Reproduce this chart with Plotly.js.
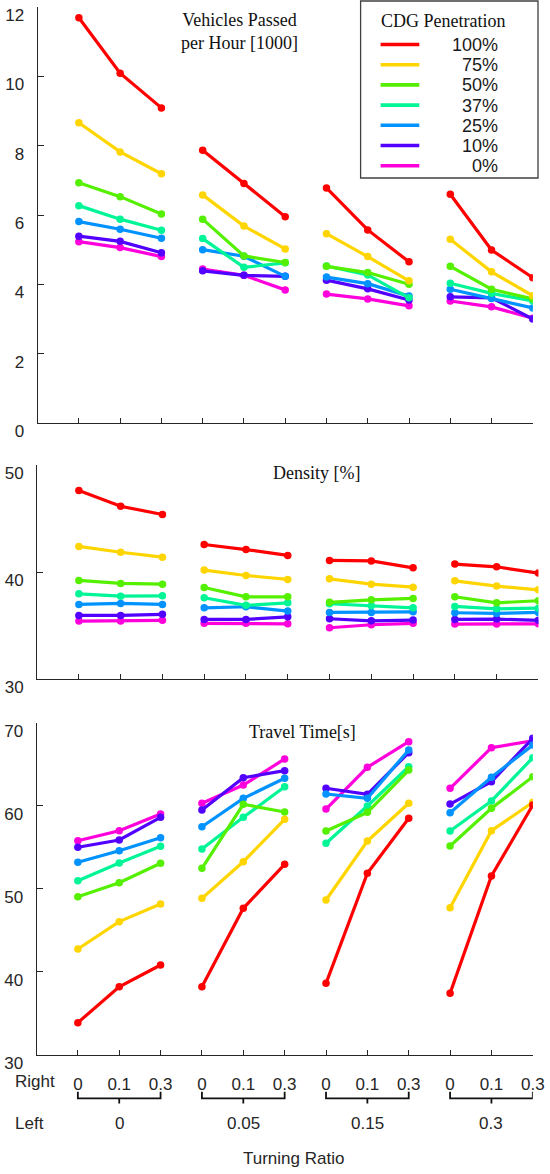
<!DOCTYPE html>
<html>
<head>
<meta charset="utf-8">
<script src="https://cdn.plot.ly/plotly-3.0.1.min.js"></script>
<style>html,body{margin:0;padding:0;background:#fff;}#chart{width:550px;height:1174px;}</style>
</head>
<body>
<div id="chart"></div>
<script>
// ---- data ----
const leftRatios = ['0', '0.05', '0.15', '0.3'];
const rightRatios = ['0', '0.1', '0.3'];
const penetration = ['100%', '75%', '50%', '37%', '25%', '10%', '0%'];
const colors = ['#ff0000', '#ffd500', '#55f000', '#00f596', '#0092ff', '#5200ff', '#ff00dc'];

// Vehicles passed per hour [1000]
const vehicles100 = [11.69, 10.09, 9.09, 7.87, 6.91, 5.95, 6.78, 5.57, 4.65, 6.60, 4.99, 4.19];
const vehicles75  = [8.66, 7.82, 7.19, 6.58, 5.68, 5.02, 5.46, 4.80, 4.10, 5.30, 4.36, 3.67];
const vehicles50  = [6.93, 6.53, 6.03, 5.88, 4.82, 4.63, 4.52, 4.34, 4.00, 4.52, 3.86, 3.58];
const vehicles37  = [6.27, 5.88, 5.56, 5.32, 4.49, 4.62, 4.53, 4.27, 3.61, 4.03, 3.74, 3.52];
const vehicles25  = [5.81, 5.59, 5.33, 5.00, 4.81, 4.23, 4.21, 4.02, 3.66, 3.86, 3.59, 3.32];
const vehicles10  = [5.39, 5.24, 4.91, 4.39, 4.26, 4.23, 4.12, 3.87, 3.55, 3.64, 3.61, 3.00];
const vehicles0   = [5.23, 5.06, 4.80, 4.44, 4.26, 3.84, 3.72, 3.58, 3.38, 3.52, 3.35, 3.02];

// Density [%]
const density100 = [47.61, 46.15, 45.38, 42.58, 42.11, 41.56, 41.09, 41.05, 40.40, 40.75, 40.50, 39.91];
const density75  = [42.40, 41.86, 41.40, 40.19, 39.69, 39.32, 39.38, 38.88, 38.60, 39.19, 38.70, 38.35];
const density50  = [39.23, 38.95, 38.88, 38.57, 37.70, 37.70, 37.18, 37.42, 37.55, 37.70, 37.14, 37.33];
const density37  = [37.98, 37.76, 37.79, 37.61, 36.90, 37.14, 37.05, 36.86, 36.67, 36.80, 36.58, 36.64];
const density25  = [36.99, 37.08, 36.99, 36.67, 36.77, 36.37, 36.24, 36.24, 36.30, 36.21, 36.15, 36.24];
const density10  = [35.96, 35.96, 36.06, 35.59, 35.59, 35.83, 35.65, 35.46, 35.53, 35.59, 35.62, 35.50];
const density0   = [35.43, 35.43, 35.50, 35.22, 35.22, 35.18, 34.81, 35.09, 35.22, 35.15, 35.15, 35.18];

// Travel time [s]
const travel100 = [33.86, 38.19, 40.81, 38.19, 47.64, 52.94, 38.60, 51.86, 58.48, 37.40, 51.53, 60.08];
const travel75  = [42.73, 46.03, 48.16, 48.84, 53.25, 58.36, 48.64, 55.75, 60.29, 47.71, 56.99, 60.41];
const travel50  = [49.04, 50.72, 53.06, 52.46, 60.17, 59.24, 56.95, 59.20, 64.30, 55.14, 59.69, 63.49];
const travel37  = [50.96, 53.10, 55.11, 54.78, 58.60, 62.29, 55.47, 59.96, 64.70, 56.95, 60.57, 65.78];
const travel25  = [53.18, 54.58, 56.14, 57.47, 60.89, 63.30, 61.41, 60.89, 66.71, 59.16, 63.42, 67.31];
const travel10  = [54.99, 55.87, 58.60, 59.48, 63.37, 64.22, 62.10, 61.37, 66.39, 60.20, 62.89, 68.12];
const travel0   = [55.78, 56.99, 59.00, 60.29, 62.49, 65.63, 59.60, 64.63, 67.71, 62.10, 66.99, 67.83];

const panelTitles = ['Vehicles Passed<br>per Hour [1000]', 'Density [%]', 'Travel Time[s]'];
const xAxisTitle = 'Turning Ratio';

// ---- build ----
const vehicles = [vehicles100, vehicles75, vehicles50, vehicles37, vehicles25, vehicles10, vehicles0];
const density = [density100, density75, density50, density37, density25, density10, density0];
const travel = [travel100, travel75, travel50, travel37, travel25, travel10, travel0];
const nG = leftRatios.length, nR = rightRatios.length;

function gapped(vals) {
  const xs = [], ys = [];
  for (let g = 0; g < nG; g++) {
    for (let r = 0; r < nR; r++) { xs.push(g * nR + r); ys.push(vals[g * nR + r]); }
    if (g < nG - 1) { xs.push(null); ys.push(null); }
  }
  return {xs, ys};
}

const traces = [];
const sets = [[vehicles, 'x', 'y'], [density, 'x2', 'y2'], [travel, 'x3', 'y3']];
sets.forEach(([data, xa, ya]) => {
  for (let i = penetration.length - 1; i >= 0; i--) {
    const d = gapped(data[i]);
    traces.push({
      x: d.xs, y: d.ys, xaxis: xa, yaxis: ya, type: 'scatter', mode: 'lines+markers',
      name: penetration[i], showlegend: false, connectgaps: false,
      line: {color: colors[i], width: 3.2},
      marker: {color: colors[i], size: 7.5},
      hoverinfo: 'skip'
    });
  }
});

const W = 550, H = 1174;
const px = v => v / W, py = v => 1 - v / H;
const tickFont = {family: 'Liberation Sans, Arial, sans-serif', size: 17, color: '#262626'};
const serif = {family: 'Liberation Serif, Times New Roman, serif', size: 18, color: '#111'};
const allIdx = [];
for (let k = 0; k < nG * nR; k++) allIdx.push(k);
const rightText = [];
for (let g = 0; g < nG; g++) rightRatios.forEach(t => rightText.push(t));

function xax(dom, showLabels) {
  return {
    domain: dom, range: [-1, nG * nR - 1], tickvals: allIdx, ticktext: rightText,
    showticklabels: showLabels, ticks: 'inside', ticklen: 5, tickwidth: 1, tickcolor: '#262626',
    showline: true, linecolor: '#262626', linewidth: 1, showgrid: false, zeroline: false,
    tickfont: {family: 'Liberation Sans, Arial, sans-serif', size: 17, color: '#262626'},
    ticklabelstandoff: 14, automargin: false, fixedrange: true
  };
}
function yax(dom, range, dtick) {
  return {
    domain: dom, range: range, dtick: dtick, tick0: 0, ticks: 'inside', ticklen: 6, tickwidth: 1,
    tickcolor: '#262626', showline: true, linecolor: '#262626', linewidth: 1, showgrid: false,
    zeroline: false, tickfont: tickFont, ticklabelstandoff: 9, ticklabelshift: 8,
    automargin: false, fixedrange: true
  };
}

const shapes = [];
const annotations = [];

// panel titles
annotations.push({xref: 'paper', yref: 'paper', x: px(239.4), y: py(31.7), text: panelTitles[0], showarrow: false,
  font: serif, xanchor: 'center', yanchor: 'middle', align: 'center'});
annotations.push({xref: 'paper', yref: 'paper', x: px(316.5), y: py(472.7), text: panelTitles[1], showarrow: false,
  font: serif, xanchor: 'center', yanchor: 'middle'});
annotations.push({xref: 'paper', yref: 'paper', x: px(302.9), y: py(731.7), text: panelTitles[2], showarrow: false,
  font: serif, xanchor: 'center', yanchor: 'middle'});

// legend (drawn manually to match right-aligned labels)
shapes.push({type: 'rect', xref: 'paper', yref: 'paper', x0: px(360.6), x1: px(538), y0: py(1), y1: py(178),
  line: {color: '#404040', width: 1.3}, fillcolor: '#ffffff', layer: 'above'});
annotations.push({xref: 'paper', yref: 'paper', x: px(443), y: py(20.7), text: 'CDG Penetration', showarrow: false,
  font: serif, xanchor: 'center', yanchor: 'middle'});
penetration.forEach((p, i) => {
  const yc = 44.5 + i * 20.2;
  shapes.push({type: 'line', xref: 'paper', yref: 'paper', x0: px(380.6), x1: px(419.3), y0: py(yc), y1: py(yc),
    line: {color: colors[i], width: 3.6}, layer: 'above'});
  annotations.push({xref: 'paper', yref: 'paper', x: px(500), y: py(yc + 0.5), text: p, showarrow: false,
    font: {family: 'Liberation Sans, Arial, sans-serif', size: 18, color: '#1a1a1a'}, xanchor: 'right', yanchor: 'middle'});
});

// turning ratio labels under bottom axis
annotations.push({xref: 'paper', yref: 'paper', x: px(13), y: py(1081.7), text: 'Right', showarrow: false,
  font: tickFont, xanchor: 'left', yanchor: 'middle'});
annotations.push({xref: 'paper', yref: 'paper', x: px(13), y: py(1123), text: 'Left', showarrow: false,
  font: tickFont, xanchor: 'left', yanchor: 'middle'});
leftRatios.forEach((l, g) => {
  const x0 = g * nR, x1 = g * nR + nR - 1, xm = (x0 + x1) / 2;
  shapes.push({type: 'path', xref: 'x3', yref: 'paper',
    path: `M ${x0} ${py(1091.7)} L ${x0} ${py(1098.3)} L ${x1} ${py(1098.3)} L ${x1} ${py(1091.7)} M ${xm} ${py(1098.3)} L ${xm} ${py(1103.5)}`,
    line: {color: '#111', width: 1.8}});
  annotations.push({xref: 'x3', yref: 'paper', x: xm, y: py(1123), text: l, showarrow: false,
    font: tickFont, xanchor: 'center', yanchor: 'middle'});
});
annotations.push({xref: 'paper', yref: 'paper', x: px(293.8), y: py(1158.3), text: xAxisTitle, showarrow: false,
  font: tickFont, xanchor: 'center', yanchor: 'middle'});

const layout = {
  width: W, height: H, margin: {l: 0, r: 0, t: 0, b: 0, pad: 0},
  paper_bgcolor: '#ffffff', plot_bgcolor: 'rgba(0,0,0,0)', showlegend: false,
  xaxis: xax([px(37.6), px(532.8)], false),
  yaxis: yax([py(423), py(7)], [0, 12], 2),
  xaxis2: Object.assign(xax([px(37.1), px(538.4)], false), {anchor: 'y2'}),
  yaxis2: Object.assign(yax([py(679.3), py(465)], [30, 50], 10), {anchor: 'x2'}),
  xaxis3: Object.assign(xax([px(36.5), px(532.8)], true), {anchor: 'y3'}),
  yaxis3: Object.assign(yax([py(1054.7), py(722.7)], [30, 70], 10), {anchor: 'x3'}),
  shapes: shapes, annotations: annotations
};
layout.xaxis.anchor = 'y';
layout.yaxis.anchor = 'x';

Plotly.newPlot('chart', traces, layout, {displayModeBar: false, staticPlot: true});
</script>
</body>
</html>
